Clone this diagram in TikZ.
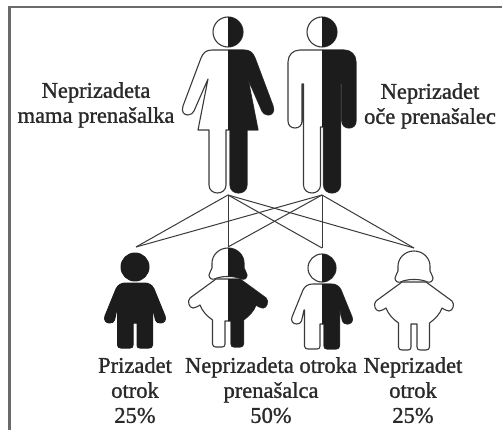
\documentclass[tikz,border=0pt]{standalone}
\usepackage{fontspec}
\setmainfont{Liberation Serif}
\newfontfamily\capfont{Liberation Serif}[FakeBold=1.2]
\begin{document}
% Figure outlines, drawn in local units (1pt, y pointing down)
\newcommand\womanbody{(0,18) -- (16,18) .. controls (22,18) and (25,21) .. (27,26) -- (45,74) .. controls (47,80) and (44,83) .. (40,83) .. controls (37,83) and (35,81) .. (34,79) -- (20,47) -- (30,98) -- (19,98) -- (19,153) .. controls (19,158) and (15,161) .. (10.5,161) .. controls (6,161) and (2,158) .. (2,153) -- (2,98) -- (-2,98) -- (-2,153) .. controls (-2,158) and (-6,161) .. (-10.5,161) .. controls (-15,161) and (-19,158) .. (-19,153) -- (-19,98) -- (-30,98) -- (-20,47) -- (-34,79) .. controls (-35,81) and (-37,83) .. (-40,83) .. controls (-44,83) and (-47,80) .. (-45,74) -- (-27,26) .. controls (-25,21) and (-22,18) .. (-16,18) -- cycle}
\newcommand\manbody{(0,18) -- (22,18) .. controls (29,18) and (34,23) .. (34,30) -- (34,89) .. controls (34,93.5) and (31,96) .. (27,96) .. controls (23,96) and (20,93.5) .. (20,89) -- (20,52) -- (18.5,52) -- (18.5,153) .. controls (18.5,158) and (14.5,161) .. (10,161) .. controls (5.5,161) and (1.5,158) .. (1.5,153) -- (1.5,95) -- (-1.5,95) -- (-1.5,153) .. controls (-1.5,158) and (-5.5,161) .. (-10,161) .. controls (-14.5,161) and (-18.5,158) .. (-18.5,153) -- (-18.5,52) -- (-20,52) -- (-20,89) .. controls (-20,93.5) and (-23,96) .. (-27,96) .. controls (-31,96) and (-34,93.5) .. (-34,89) -- (-34,30) .. controls (-34,23) and (-29,18) .. (-22,18) -- cycle}
\newcommand\boybody{(0,16) -- (9,16) .. controls (14,16) and (17,18) .. (19,22) -- (30,49) .. controls (31.5,53) and (29,56) .. (25.5,56) .. controls (23,56) and (21,55) .. (20.5,53) -- (18,42) -- (17.5,42) -- (17.5,78) .. controls (17.5,80) and (16,81) .. (14,81) -- (5,81) .. controls (3,81) and (2,80) .. (2,78) -- (2,56) -- (-2,56) -- (-2,78) .. controls (-2,80) and (-3,81) .. (-5,81) -- (-14,81) .. controls (-16,81) and (-17.5,80) .. (-17.5,78) -- (-17.5,42) -- (-18,42) -- (-20.5,53) .. controls (-21,55) and (-23,56) .. (-25.5,56) .. controls (-29,56) and (-31.5,53) .. (-30,49) -- (-19,22) .. controls (-17,18) and (-14,16) .. (-9,16) -- cycle}
\newcommand\girlhead{(0,1) .. controls (9,1) and (16,8) .. (16,16) -- (16,21) .. controls (16,23) and (19,25) .. (19,28) .. controls (19,31) and (16.5,33) .. (13.5,32) .. controls (11,31) and (8,29.5) .. (0,29.5) .. controls (-8,29.5) and (-11,31) .. (-13.5,32) .. controls (-16.5,33) and (-19,31) .. (-19,28) .. controls (-19,25) and (-16,23) .. (-16,21) -- (-16,16) .. controls (-16,8) and (-9,1) .. (0,1) -- cycle}
\newcommand\girldress{(0,32) -- (12,32) -- (38,51) .. controls (41,54) and (39,61) .. (35,61) .. controls (32,61) and (30,59) .. (28,58) .. controls (26,64) and (21,69) .. (15.5,73) -- (15.5,97) .. controls (15.5,99) and (14,100) .. (12,100) -- (6,100) .. controls (4,100) and (3,99) .. (3,97) -- (3,74) -- (-3,74) -- (-3,97) .. controls (-3,99) and (-4,100) .. (-6,100) -- (-12,100) .. controls (-14,100) and (-15.5,99) .. (-15.5,97) -- (-15.5,73) .. controls (-21,69) and (-26,64) .. (-28,58) .. controls (-30,59) and (-32,61) .. (-35,61) .. controls (-39,61) and (-41,54) .. (-38,51) -- (-12,32) -- cycle}
% A figure whose right half is dark: #1 head, #2 body
\newcommand\splitfigure[2]{%
  \path[figline] #1; \path[figline] #2;
  \begin{scope}
    \clip (0,-30) rectangle (80,200);
    \path[darkfill] #1; \path[darkfill] #2;
  \end{scope}}
\definecolor{figblack}{HTML}{1C1C1C}
\definecolor{figgray}{HTML}{3A3A3A}
\definecolor{textgray}{HTML}{2A2A2A}
\definecolor{framegray}{HTML}{6A6A6A}
\tikzset{
  figline/.style={fill=white, draw=figgray, line width=1.1pt, line join=round},
  darkfill/.style={fill=figblack},
  solidfig/.style={fill=figblack, draw=figblack, line width=1pt, line join=round},
  link/.style={draw=figgray, line width=1pt},
  frameline/.style={draw=framegray, line width=2.3pt},
  caption/.style={text=textgray, align=center, anchor=north, inner sep=0pt,
    font=\capfont\fontsize{22.5}{25}\selectfont},
  pics/woman/.style={code={\splitfigure{(0,0) circle[radius=15]}{\womanbody}}},
  pics/man/.style={code={\splitfigure{(0,0) circle[radius=15]}{\manbody}}},
  pics/halfboy/.style={code={\splitfigure{(0,0) circle[radius=14]}{\boybody}}},
  pics/halfgirl/.style={code={\splitfigure{\girlhead}{\girldress}}},
  pics/darkboy/.style={code={\path[solidfig] (0,0) circle[radius=14]; \path[solidfig] \boybody;}},
  pics/lightgirl/.style={code={\path[figline] \girlhead; \path[figline] \girldress;}},
}
\begin{tikzpicture}[x=1pt, y=-1pt]
\useasboundingbox (0,0) rectangle (502,430);
% frame edges
\draw[frameline] (9.5,430) -- (9.5,7) -- (502,7);

% parents
\pic (mother) at (228,32) {woman};
\pic (father) at (322,32) {man};

% children
\pic (child1) at (135,267) {darkboy};
\pic (child2) at (228,247) {halfgirl};
\pic (child3) at (322,268) {halfboy};
\pic (child4) at (414,250) {lightgirl};

% inheritance lines
\coordinate (motherfoot) at (228,195);
\coordinate (fatherfoot) at (322,195);
\coordinate (c1top) at (136,247);
\coordinate (c2top) at (228,247);
\coordinate (c3top) at (322,248);
\coordinate (c4top) at (414,248);
\foreach \p in {motherfoot, fatherfoot}
  \foreach \c in {c1top, c2top, c3top, c4top}
    \draw[link] (\p) -- (\c);

% labels
\node[caption] (lblmother) at (96,82) {Neprizadeta\\mama prenašalka};
\node[caption] (lblfather) at (430,83) {Neprizadet\\oče prenašalec};
\node[caption] (lbl1) at (135,357) {Prizadet\\otrok\\25\%};
\node[caption] (lbl2) at (271,357) {Neprizadeta otroka\\prenašalca\\50\%};
\node[caption] (lbl3) at (413,357) {Neprizadet\\otrok\\25\%};
\end{tikzpicture}
\end{document}
